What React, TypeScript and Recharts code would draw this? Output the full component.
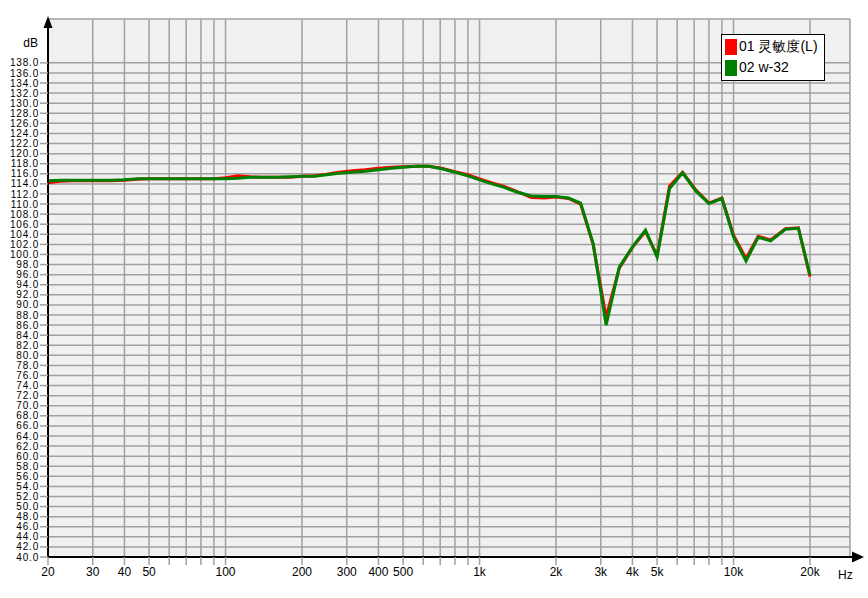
import React from 'react';
import { LineChart, Line, XAxis, YAxis, CartesianGrid } from 'recharts';

// 1/6-octave measurement points, Hz
const freqs = [
  20, 22.4, 25, 28, 31.5, 35.5, 40, 45, 50, 56, 63, 71, 80, 90, 100, 112, 125, 140, 160, 180,
  200, 224, 250, 280, 315, 355, 400, 450, 500, 560, 630, 710, 800, 900, 1000, 1120, 1250, 1400,
  1600, 1800, 2000, 2240, 2500, 2800, 3150, 3550, 4000, 4500, 5000, 5600, 6300, 7100, 8000, 9000,
  10000, 11200, 12500, 14000, 16000, 18000, 20000,
];

// 01 灵敏度(L)
const sensL = [
  114.2, 114.5, 114.6, 114.6, 114.6, 114.6, 114.7, 114.9, 115.0, 115.0, 115.0, 115.0, 115.0, 115.0, 115.2, 115.6, 115.4, 115.3, 115.3, 115.3,
  115.5, 115.6, 115.9, 116.3, 116.6, 116.8, 117.1, 117.3, 117.4, 117.5, 117.5, 117.1, 116.4, 115.8, 115.0, 114.2, 113.5, 112.5,
  111.3, 111.2, 111.4, 111.1, 110.0, 102.0, 87.6, 97.3, 101.4, 104.6, 99.8, 113.6, 116.3, 112.8, 110.2, 111.2,
  103.8, 99.2, 103.6, 102.9, 105.1, 105.3, 95.6,
];

// 02 w-32
const w32 = [
  114.6, 114.7, 114.7, 114.7, 114.7, 114.7, 114.8, 115.0, 115.0, 115.0, 115.0, 115.0, 115.0, 115.0, 115.0, 115.1, 115.3, 115.3, 115.3, 115.4,
  115.5, 115.5, 115.8, 116.1, 116.3, 116.5, 116.8, 117.1, 117.3, 117.5, 117.5, 117.0, 116.3, 115.6, 114.8, 114.0, 113.3, 112.4,
  111.6, 111.5, 111.5, 111.2, 110.2, 102.2, 86.0, 97.5, 101.5, 104.8, 99.5, 113.1, 116.2, 112.6, 110.1, 111.1,
  103.5, 98.7, 103.4, 102.7, 105.0, 105.2, 95.9,
];

const gridFreqs = [
  20, 30, 40, 50, 60, 70, 80, 90, 100, 200, 300, 400, 500, 600, 700, 800, 900,
  1000, 2000, 3000, 4000, 5000, 6000, 7000, 8000, 9000, 10000, 20000,
];
const labeledFreqs = [20, 30, 40, 50, 100, 200, 300, 400, 500, 1000, 2000, 3000, 4000, 5000, 10000, 20000];

const dbTicks = Array.from({ length: 50 }, (_, i) => 40 + i * 2);

const series = [
  { key: 'sensL', name: '01 灵敏度(L)', color: '#ff0000' },
  { key: 'w32', name: '02 w-32', color: '#008000' },
];

const data = freqs.map((f, i) => ({ f, sensL: sensL[i], w32: w32[i] }));

const fmtHz = (v: number) => {
  if (!labeledFreqs.includes(v)) return '';
  return v >= 1000 ? `${v / 1000}k` : `${v}`;
};

const font = '"Liberation Sans", Arial, sans-serif';

const LegendBox = () => (
  <div
    style={{
      position: 'absolute',
      left: 721,
      top: 34,
      background: '#fff',
      border: '1px solid #000',
      padding: '1px 6px 2px 3px',
      fontFamily: font,
      fontSize: 14,
      lineHeight: '21px',
      color: '#000',
    }}
  >
    {series.map((s) => (
      <div key={s.key} style={{ display: 'flex', alignItems: 'center' }}>
        <span style={{ display: 'inline-block', width: 12, height: 16, background: s.color, marginRight: 2 }} />
        <span>{s.name}</span>
      </div>
    ))}
  </div>
);

export default function App() {
  return (
    <div style={{ position: 'relative', width: 868, height: 598, background: '#fff' }}>
      <style>{'body{margin:0}'}</style>
      <LineChart width={868} height={598} data={data} margin={{ top: 19, right: 18, bottom: 11, left: 8 }}>
        <CartesianGrid stroke="#a0a0a0" strokeWidth={1.5} fill="#f0f0f0" />
        <XAxis
          dataKey="f"
          type="number"
          scale="log"
          domain={[20, 28740]}
          ticks={gridFreqs}
          interval={0}
          tickFormatter={fmtHz}
          height={30}
          tickSize={8}
          tickMargin={2}
          tickLine={{ stroke: '#a0a0a0', strokeWidth: 1.5 }}
          axisLine={{ stroke: '#000', strokeWidth: 2 }}
          tick={{ fill: '#000', fontSize: 12, fontFamily: font }}
          allowDataOverflow
        />
        <YAxis
          type="number"
          domain={[40, 146.7]}
          ticks={dbTicks}
          interval={0}
          width={40}
          tickSize={8}
          tickMargin={1}
          tickFormatter={(v: number) => v.toFixed(1)}
          tickLine={{ stroke: '#a0a0a0', strokeWidth: 1.5 }}
          axisLine={{ stroke: '#000', strokeWidth: 2 }}
          tick={{ fill: '#000', fontSize: 10, fontFamily: font, letterSpacing: 0.8 }}
          allowDataOverflow
        />
        {series.map((s) => (
          <Line
            key={s.key}
            type="linear"
            dataKey={s.key}
            name={s.name}
            stroke={s.color}
            strokeWidth={3}
            dot={false}
            isAnimationActive={false}
          />
        ))}
      </LineChart>
      <svg
        width={868}
        height={598}
        style={{ position: 'absolute', left: 0, top: 0, pointerEvents: 'none' }}
      >
        <polygon points="48,16 43.5,28 52.5,28" fill="#000" />
        <line x1={849} y1={557} x2={856} y2={557} stroke="#000" strokeWidth={2} />
        <polygon points="864,557 852,551.5 852,562.5" fill="#000" />
        <text x={38} y={47} textAnchor="end" fontSize={12} fontFamily={font} fill="#000">dB</text>
        <text x={838} y={579} fontSize={12} fontFamily={font} fill="#000">Hz</text>
      </svg>
      <LegendBox />
    </div>
  );
}
